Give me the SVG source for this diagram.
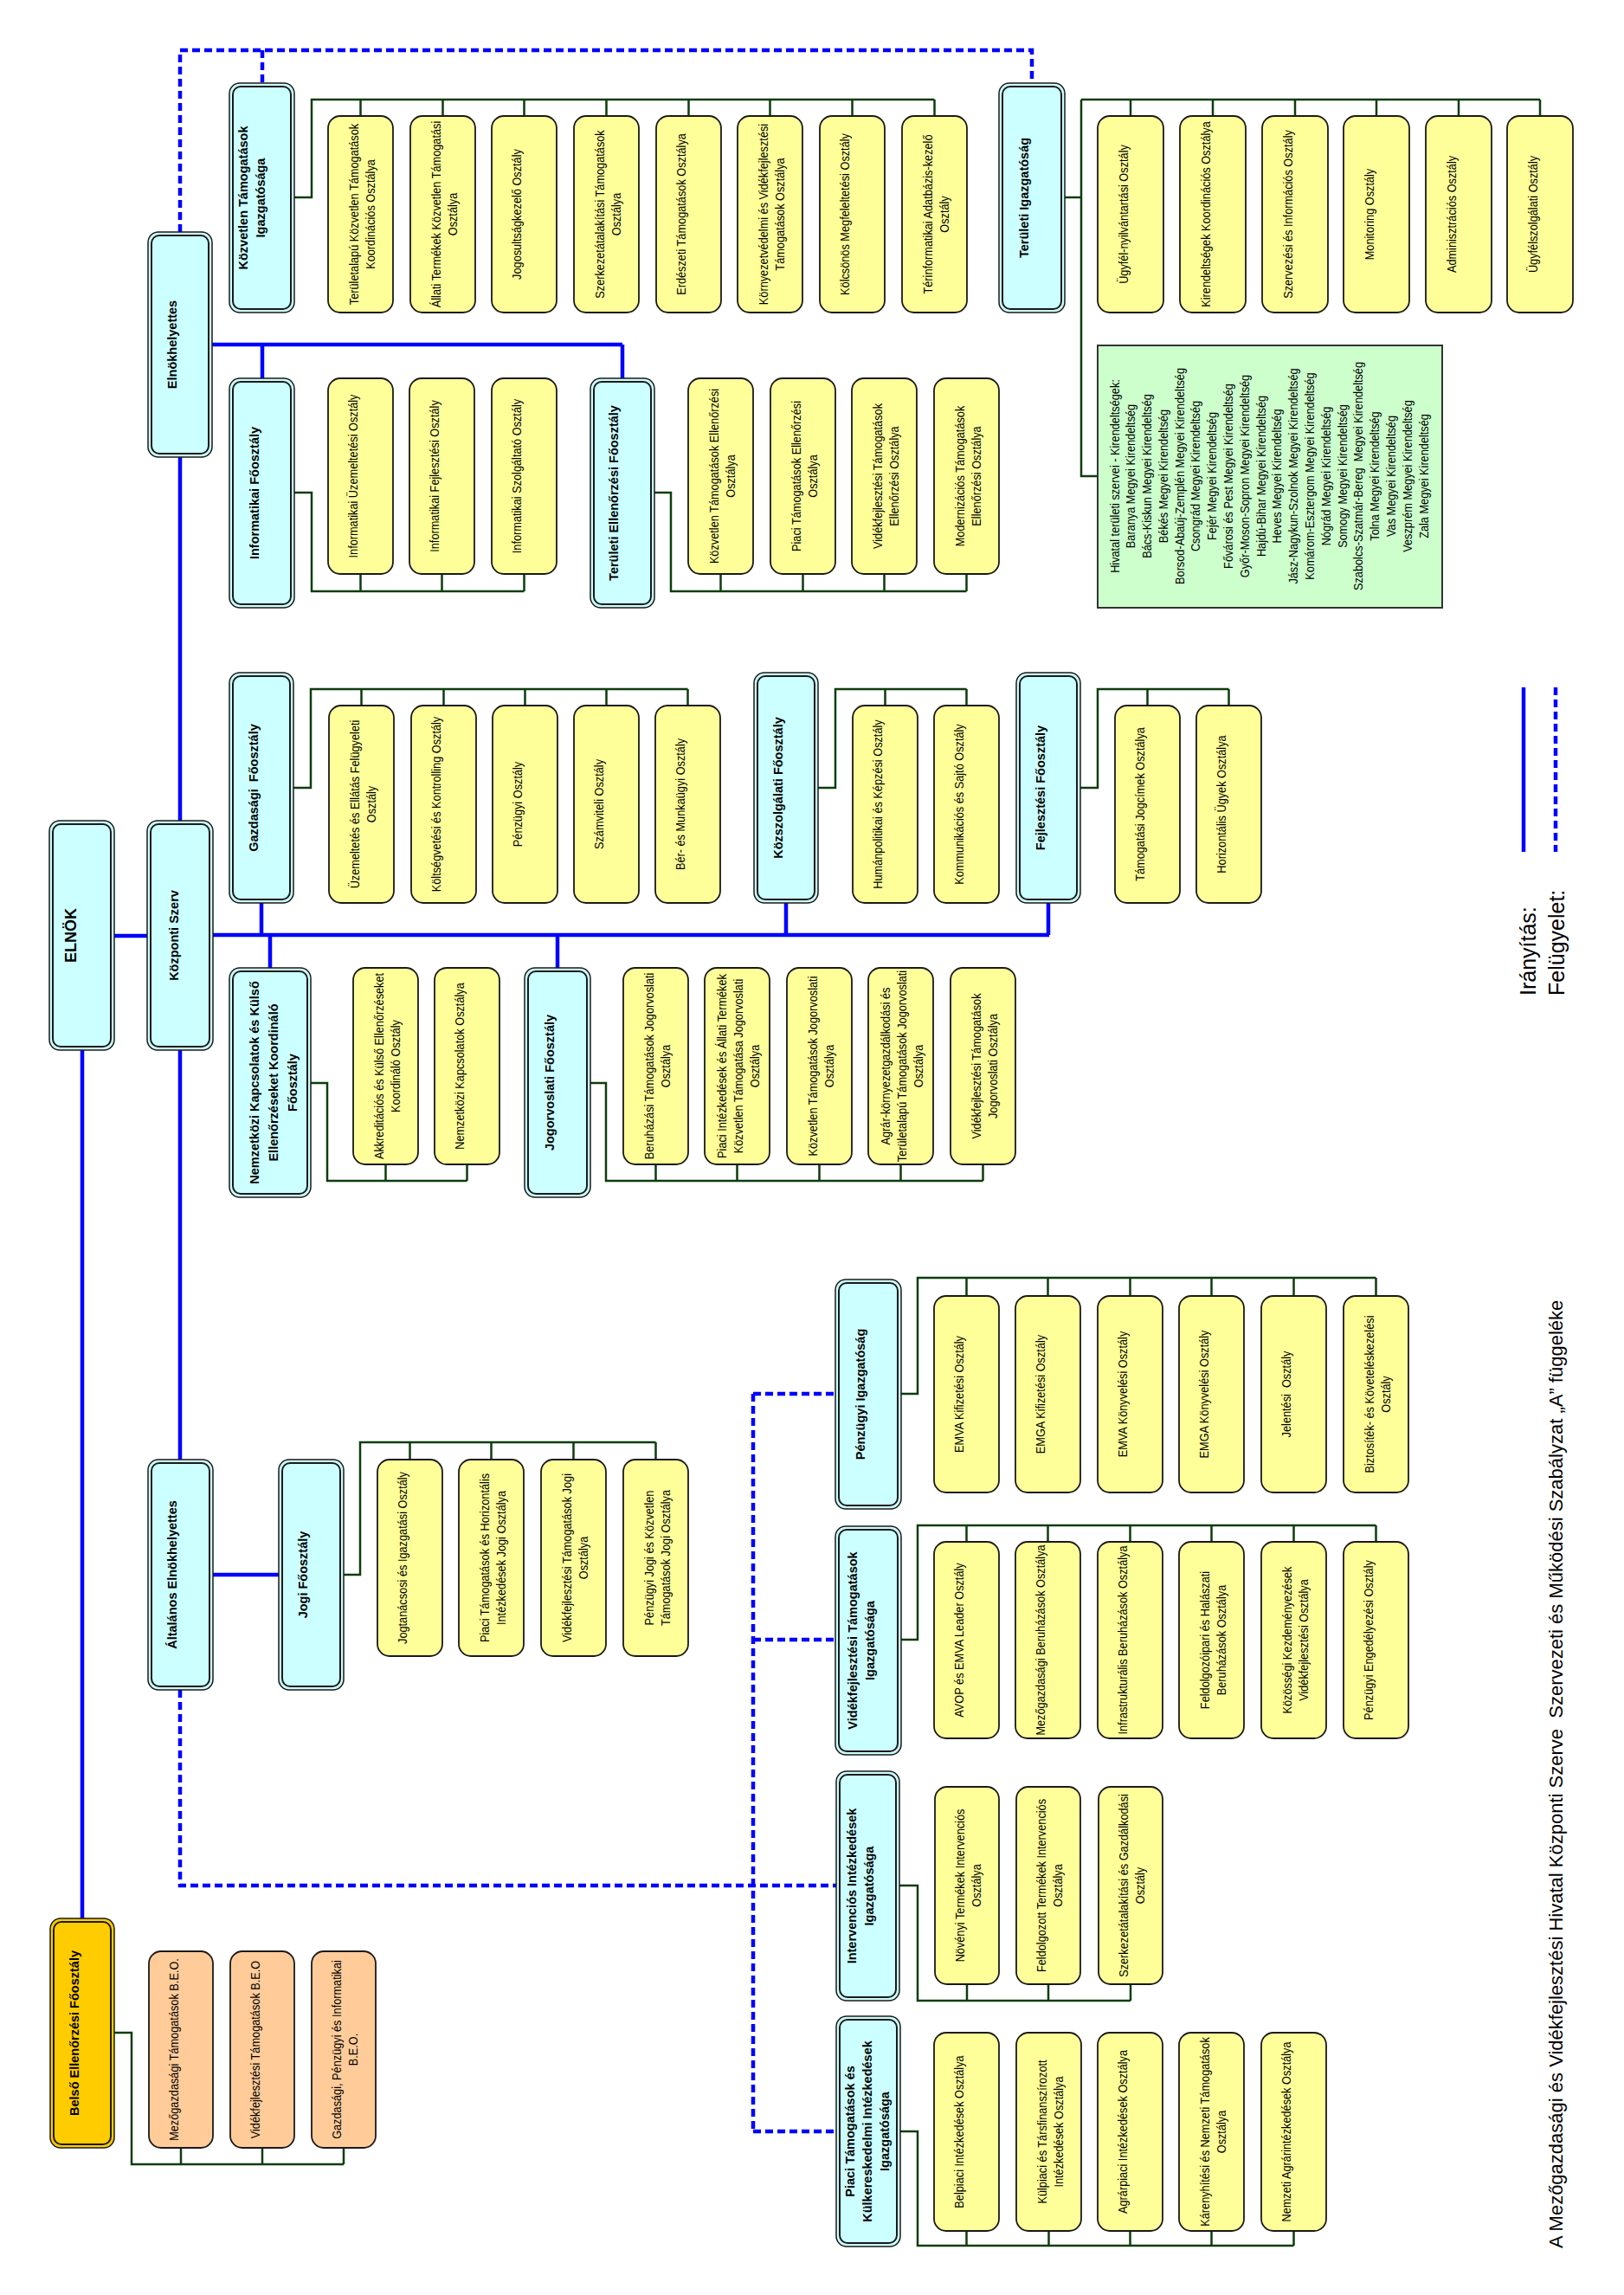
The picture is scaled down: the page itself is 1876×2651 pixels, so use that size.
<svg xmlns="http://www.w3.org/2000/svg" width="1876" height="2651" viewBox="0 0 1876 2651">
<style>
.cy{fill:#CCFFFF;stroke:#1a1a1a;stroke-width:1.5}
.go{fill:#FFCC00;stroke:#1a1a1a;stroke-width:1.5}
.in{fill:none;stroke:#1a1a1a;stroke-width:2}
.ye{fill:#FFFF99;stroke:#1a1a1a;stroke-width:1.8}
.or{fill:#FFCC99;stroke:#1a1a1a;stroke-width:1.8}
.gr{fill:#CCFFCC;stroke:#333;stroke-width:2}
text{font-family:"Liberation Sans",Arial,sans-serif;text-anchor:middle;fill:#000}
.h{font-weight:bold;font-size:14.5px}
.t{font-size:15px}
.big{font-weight:bold;font-size:18px}
.lg{font-size:22px;text-anchor:start}
.lg2{font-size:25px;text-anchor:start}
.c{fill:none;stroke:#0d3d0d;stroke-width:2.5}
.b{fill:none;stroke:#0000FF;stroke-width:4.5}
.d{fill:none;stroke:#0000FF;stroke-width:4.5;stroke-dasharray:9 5}
</style>
<rect width="1876" height="2651" fill="#fff"/>

<g id="connectors">
<path class="b" d="M132,1081 H170 M246,1080 H1212 M302,1043 V1080 M908,1043 V1080 M1211,1043 V1080 M312,1080 V1118 M644,1080 V1118 M208,948 V528 M245,398 H719 M303,398 V437 M719,398 V437 M208,1213 V1686 M246,1819 H322 M95,1213 V2216"/>
<path class="d" d="M208,268 V58 H1192 V96 M303,58 V96 M208,1952 V2178 H966 M870,1610 V2462 M870,1610 H965 M870,1894 H965 M870,2462 H966"/>
<path class="c" d="M340,228 H360 V115 H1079.5 M416.5,115 V134 M511.5,115 V134 M605.5,115 V134 M700.5,115 V134 M795.5,115 V134 M889.5,115 V134 M984.5,115 V134 M1079.5,115 V134"/>
<path class="c" d="M1230,228 H1249 M1249,115 V550 H1268 M1249,115 H1779 M1306,115 V134 M1401,115 V134 M1496,115 V134 M1590,115 V134 M1685,115 V134 M1779,115 V134"/>
<path class="c" d="M340,569 H360 V683 H605.5 M416.5,663 V683 M510.5,663 V683 M605.5,663 V683"/>
<path class="c" d="M756,569 H775 V683 H1116.5 M832.5,663 V683 M927.5,663 V683 M1021.5,663 V683 M1116.5,663 V683"/>
<path class="c" d="M339,910 H359 V796 H794.5 M417.5,796 V815 M512.5,796 V815 M606.5,796 V815 M700.5,796 V815 M794.5,796 V815"/>
<path class="c" d="M945,910 H965 V796 H1116.5 M1022.5,796 V815 M1116.5,796 V815"/>
<path class="c" d="M1248,910 H1268 V796 H1419.5 M1325.5,796 V815 M1419.5,796 V815"/>
<path class="c" d="M359,1251 H378 V1364 H539.5 M445.5,1345 V1364 M539.5,1345 V1364"/>
<path class="c" d="M682,1251 H700 V1364 H1135.5 M757.5,1345 V1364 M851.5,1345 V1364 M946.5,1345 V1364 M1040.5,1345 V1364 M1135.5,1345 V1364"/>
<path class="c" d="M397,1819 H416 V1666 H757.5 M473.5,1666 V1686 M567.5,1666 V1686 M662.5,1666 V1686 M757.5,1666 V1686"/>
<path class="c" d="M1041,1610 H1060 V1476 H1589.5 M1116.5,1476 V1497 M1210.5,1476 V1497 M1305.5,1476 V1497 M1399.5,1476 V1497 M1494.5,1476 V1497 M1589.5,1476 V1497"/>
<path class="c" d="M1041,1894 H1060 V1762 H1589.5 M1116.5,1762 V1781 M1210.5,1762 V1781 M1305.5,1762 V1781 M1399.5,1762 V1781 M1494.5,1762 V1781 M1589.5,1762 V1781"/>
<path class="c" d="M1039,2178 H1060 V2311 H1306 M1117,2292 V2311 M1211,2292 V2311 M1306,2292 V2311"/>
<path class="c" d="M1040,2462 H1060 V2594 H1494.5 M1116.5,2577 V2594 M1211.5,2577 V2594 M1305.5,2577 V2594 M1399.5,2577 V2594 M1494.5,2577 V2594"/>
<path class="c" d="M132,2348 H152 V2500 H397 M209,2481 V2500 M303,2481 V2500 M397,2481 V2500"/>
</g>

<g id="elnok"><rect class="cy" x="57" y="948" width="75" height="265" rx="12"/><rect class="in" x="61" y="952" width="67" height="257" rx="9"/><text class="big" transform="translate(83,1080.5) rotate(-90)"><tspan x="0" y="5.4">ELNÖK</tspan></text></g>
<g id="kozponti-szerv"><rect class="cy" x="170" y="948" width="76" height="265" rx="12"/><rect class="in" x="174" y="952" width="68" height="257" rx="9"/><text class="h" transform="translate(202,1080.5) rotate(-90)"><tspan x="0" y="4.4">Központi Szerv</tspan></text></g>
<g id="elnokhelyettes"><rect class="cy" x="171" y="268" width="74" height="260" rx="12"/><rect class="in" x="175" y="272" width="66" height="252" rx="9"/><text class="h" transform="translate(200,398) rotate(-90)"><tspan x="0" y="4.4">Elnökhelyettes</tspan></text></g>
<g id="kozvetlen-tam-ig"><rect class="cy" x="265" y="96" width="75" height="265" rx="12"/><rect class="in" x="269" y="100" width="67" height="257" rx="9"/><text class="h" transform="translate(292,228.5) rotate(-90)"><tspan x="0" y="-5.6">Közvetlen Támogatások</tspan><tspan x="0" y="14.4">Igazgatósága</tspan></text></g>
<g id="teruleti-ig"><rect class="cy" x="1154" y="96" width="76" height="265" rx="12"/><rect class="in" x="1158" y="100" width="68" height="257" rx="9"/><text class="h" transform="translate(1184,228.5) rotate(-90)"><tspan x="0" y="4.4">Területi Igazgatóság</tspan></text></g>
<g id="informatikai-fo"><rect class="cy" x="265" y="437" width="75" height="265" rx="12"/><rect class="in" x="269" y="441" width="67" height="257" rx="9"/><text class="h" transform="translate(295,569.5) rotate(-90)"><tspan x="0" y="4.4">Informatikai Főosztály</tspan></text></g>
<g id="teruleti-ell-fo"><rect class="cy" x="682" y="437" width="74" height="265" rx="12"/><rect class="in" x="686" y="441" width="66" height="257" rx="9"/><text class="h" transform="translate(710,569.5) rotate(-90)"><tspan x="0" y="4.4">Területi Ellenőrzési Főosztály</tspan></text></g>
<g id="gazdasagi-fo"><rect class="cy" x="265" y="777" width="74" height="266" rx="12"/><rect class="in" x="269" y="781" width="66" height="258" rx="9"/><text class="h" xml:space="preserve" transform="translate(294,910) rotate(-90)"><tspan x="0" y="4.4">Gazdasági  Főosztály</tspan></text></g>
<g id="kozszolgalati-fo"><rect class="cy" x="871" y="777" width="74" height="266" rx="12"/><rect class="in" x="875" y="781" width="66" height="258" rx="9"/><text class="h" transform="translate(900,910) rotate(-90)"><tspan x="0" y="4.4">Közszolgálati Főosztály</tspan></text></g>
<g id="fejlesztesi-fo"><rect class="cy" x="1174" y="777" width="74" height="266" rx="12"/><rect class="in" x="1178" y="781" width="66" height="258" rx="9"/><text class="h" transform="translate(1203,910) rotate(-90)"><tspan x="0" y="4.4">Fejlesztési Főosztály</tspan></text></g>
<g id="nemzetkozi-fo"><rect class="cy" x="265" y="1118" width="94" height="265" rx="12"/><rect class="in" x="269" y="1122" width="86" height="257" rx="9"/><text class="h" transform="translate(317,1250.5) rotate(-90)"><tspan x="0" y="-17.6">Nemzetközi Kapcsolatok és Külső</tspan><tspan x="0" y="4.4">Ellenőrzéseket Koordináló</tspan><tspan x="0" y="26.4">Főosztály</tspan></text></g>
<g id="jogorvoslati-fo"><rect class="cy" x="606" y="1118" width="76" height="265" rx="12"/><rect class="in" x="610" y="1122" width="68" height="257" rx="9"/><text class="h" transform="translate(636,1250.5) rotate(-90)"><tspan x="0" y="4.4">Jogorvoslati Főosztály</tspan></text></g>
<g id="altalanos-elnh"><rect class="cy" x="171" y="1686" width="75" height="266" rx="12"/><rect class="in" x="175" y="1690" width="67" height="258" rx="9"/><text class="h" transform="translate(200,1819) rotate(-90)"><tspan x="0" y="4.4">Általános Elnökhelyettes</tspan></text></g>
<g id="jogi-fo"><rect class="cy" x="322" y="1686" width="75" height="266" rx="12"/><rect class="in" x="326" y="1690" width="67" height="258" rx="9"/><text class="h" transform="translate(351,1819) rotate(-90)"><tspan x="0" y="4.4">Jogi Főosztály</tspan></text></g>
<g id="penzugyi-ig"><rect class="cy" x="965" y="1478" width="76" height="265" rx="12"/><rect class="in" x="969" y="1482" width="68" height="257" rx="9"/><text class="h" transform="translate(995,1610.5) rotate(-90)"><tspan x="0" y="4.4">Pénzügyi Igazgatóság</tspan></text></g>
<g id="videkfejl-ig"><rect class="cy" x="965" y="1763" width="76" height="264" rx="12"/><rect class="in" x="969" y="1767" width="68" height="256" rx="9"/><text class="h" transform="translate(996,1895) rotate(-90)"><tspan x="0" y="-5.6">Vidékfejlesztési Támogatások</tspan><tspan x="0" y="14.4">Igazgatósága</tspan></text></g>
<g id="intervencios-ig"><rect class="cy" x="966" y="2046" width="73" height="265" rx="12"/><rect class="in" x="970" y="2050" width="65" height="257" rx="9"/><text class="h" transform="translate(995,2178.5) rotate(-90)"><tspan x="0" y="-5.6">Intervenciós Intézkedések</tspan><tspan x="0" y="14.4">Igazgatósága</tspan></text></g>
<g id="piaci-ig"><rect class="cy" x="966" y="2329" width="74" height="266" rx="12"/><rect class="in" x="970" y="2333" width="66" height="258" rx="9"/><text class="h" transform="translate(1003,2462) rotate(-90)"><tspan x="0" y="-15.6">Piaci Támogatások és</tspan><tspan x="0" y="4.4">Külkereskedelmi Intézkedések</tspan><tspan x="0" y="24.4">Igazgatósága</tspan></text></g>
<g id="belso-ell-fo"><rect class="go" x="58" y="2216" width="74" height="265" rx="12"/><rect class="in" x="62" y="2220" width="66" height="257" rx="9"/><text class="h" transform="translate(87,2348.5) rotate(-90)"><tspan x="0" y="4.4">Belső Ellenőrzési Főosztály</tspan></text></g>

<g id="kt1"><rect class="ye" x="379" y="134" width="75" height="227" rx="14"/><text class="t" transform="translate(418.5,247.5) rotate(-90) scale(.85 1)"><tspan x="0" y="-5">Területalapú Közvetlen Támogatások</tspan><tspan x="0" y="14">Koordinációs Osztálya</tspan></text></g>
<g id="kt2"><rect class="ye" x="474" y="134" width="75" height="227" rx="14"/><text class="t" transform="translate(513.5,247.5) rotate(-90) scale(.85 1)"><tspan x="0" y="-5">Állati Termékek Közvetlen Támogatási</tspan><tspan x="0" y="14">Osztálya</tspan></text></g>
<g id="kt3"><rect class="ye" x="568" y="134" width="75" height="227" rx="14"/><text class="t" transform="translate(597.5,247.5) rotate(-90) scale(.85 1)"><tspan x="0" y="4.5">Jogosultságkezelő Osztály</tspan></text></g>
<g id="kt4"><rect class="ye" x="663" y="134" width="75" height="227" rx="14"/><text class="t" transform="translate(702.5,247.5) rotate(-90) scale(.85 1)"><tspan x="0" y="-5">Szerkezetátalakítási Támogatások</tspan><tspan x="0" y="14">Osztálya</tspan></text></g>
<g id="kt5"><rect class="ye" x="758" y="134" width="75" height="227" rx="14"/><text class="t" transform="translate(787.5,247.5) rotate(-90) scale(.85 1)"><tspan x="0" y="4.5">Erdészeti Támogatások Osztálya</tspan></text></g>
<g id="kt6"><rect class="ye" x="852" y="134" width="75" height="227" rx="14"/><text class="t" transform="translate(891.5,247.5) rotate(-90) scale(.85 1)"><tspan x="0" y="-5">Környezetvédelmi és Vidékfejlesztési</tspan><tspan x="0" y="14">Támogatások Osztálya</tspan></text></g>
<g id="kt7"><rect class="ye" x="947" y="134" width="75" height="227" rx="14"/><text class="t" transform="translate(976.5,247.5) rotate(-90) scale(.85 1)"><tspan x="0" y="4.5">Kölcsönös Megfeleltetési Osztály</tspan></text></g>
<g id="kt8"><rect class="ye" x="1042" y="134" width="75" height="227" rx="14"/><text class="t" transform="translate(1081.5,247.5) rotate(-90) scale(.85 1)"><tspan x="0" y="-5">Térinformatikai Adatbázis-kezelő</tspan><tspan x="0" y="14">Osztály</tspan></text></g>

<g id="ti1"><rect class="ye" x="1268" y="134" width="76" height="227" rx="14"/><text class="t" transform="translate(1298,247.5) rotate(-90) scale(.85 1)"><tspan x="0" y="4.5">Ügyfél-nyilvántartási Osztály</tspan></text></g>
<g id="ti2"><rect class="ye" x="1363" y="134" width="76" height="227" rx="14"/><text class="t" transform="translate(1393,247.5) rotate(-90) scale(.85 1)"><tspan x="0" y="4.5">Kirendeltségek Koordinációs Osztálya</tspan></text></g>
<g id="ti3"><rect class="ye" x="1458" y="134" width="76" height="227" rx="14"/><text class="t" transform="translate(1488,247.5) rotate(-90) scale(.85 1)"><tspan x="0" y="4.5">Szervezési és Információs Osztály</tspan></text></g>
<g id="ti4"><rect class="ye" x="1552" y="134" width="76" height="227" rx="14"/><text class="t" transform="translate(1582,247.5) rotate(-90) scale(.85 1)"><tspan x="0" y="4.5">Monitoring Osztály</tspan></text></g>
<g id="ti5"><rect class="ye" x="1647" y="134" width="76" height="227" rx="14"/><text class="t" transform="translate(1677,247.5) rotate(-90) scale(.85 1)"><tspan x="0" y="4.5">Adminisztrációs Osztály</tspan></text></g>
<g id="ti6"><rect class="ye" x="1741" y="134" width="76" height="227" rx="14"/><text class="t" transform="translate(1771,247.5) rotate(-90) scale(.85 1)"><tspan x="0" y="4.5">Ügyfélszolgálati Osztály</tspan></text></g>

<g id="kirendeltsegek"><rect class="gr" x="1268" y="399" width="398" height="303"/>
<text class="t" transform="translate(1288,550) rotate(-90) scale(.85 1)" xml:space="preserve"><tspan x="0" y="4.5">Hivatal területi szervei - Kirendeltségek:</tspan><tspan x="0" y="23.3">Baranya Megyei Kirendeltség</tspan><tspan x="0" y="42.1">Bács-Kiskun Megyei Kirendeltség</tspan><tspan x="0" y="60.9">Békés Megyei Kirendeltség</tspan><tspan x="0" y="79.7">Borsod-Abaúj-Zemplén Megyei Kirendeltség</tspan><tspan x="0" y="98.5">Csongrád Megyei Kirendeltség</tspan><tspan x="0" y="117.3">Fejér Megyei Kirendeltség</tspan><tspan x="0" y="136.1">Fővárosi és Pest Megyei Kirendeltség</tspan><tspan x="0" y="154.9">Győr-Moson-Sopron Megyei Kirendeltség</tspan><tspan x="0" y="173.7">Hajdú-Bihar Megyei Kirendeltség</tspan><tspan x="0" y="192.5">Heves Megyei Kirendeltség</tspan><tspan x="0" y="211.3">Jász-Nagykun-Szolnok Megyei Kirendeltség</tspan><tspan x="0" y="230.1">Komárom-Esztergom Megyei Kirendeltség</tspan><tspan x="0" y="248.9">Nógrád Megyei Kirendeltség</tspan><tspan x="0" y="267.7">Somogy Megyei Kirendeltség</tspan><tspan x="0" y="286.5">Szabolcs-Szatmár-Bereg  Megyei Kirendeltség</tspan><tspan x="0" y="305.3">Tolna Megyei Kirendeltség</tspan><tspan x="0" y="324.1">Vas Megyei Kirendeltség</tspan><tspan x="0" y="342.9">Veszprém Megyei Kirendeltség</tspan><tspan x="0" y="361.7">Zala Megyei Kirendeltség</tspan></text></g>

<g id="inf1"><rect class="ye" x="379" y="437" width="75" height="226" rx="14"/><text class="t" transform="translate(408.5,550) rotate(-90) scale(.85 1)"><tspan x="0" y="4.5">Informatikai Üzemeltetési Osztály</tspan></text></g>
<g id="inf2"><rect class="ye" x="473" y="437" width="75" height="226" rx="14"/><text class="t" transform="translate(502.5,550) rotate(-90) scale(.85 1)"><tspan x="0" y="4.5">Informatikai Fejlesztési Osztály</tspan></text></g>
<g id="inf3"><rect class="ye" x="568" y="437" width="75" height="226" rx="14"/><text class="t" transform="translate(597.5,550) rotate(-90) scale(.85 1)"><tspan x="0" y="4.5">Informatikai Szolgáltató Osztály</tspan></text></g>

<g id="tef1"><rect class="ye" x="795" y="437" width="75" height="226" rx="14"/><text class="t" transform="translate(834.5,550) rotate(-90) scale(.85 1)"><tspan x="0" y="-5">Közvetlen Támogatások Ellenőrzési</tspan><tspan x="0" y="14">Osztálya</tspan></text></g>
<g id="tef2"><rect class="ye" x="890" y="437" width="75" height="226" rx="14"/><text class="t" transform="translate(929.5,550) rotate(-90) scale(.85 1)"><tspan x="0" y="-5">Piaci Támogatások Ellenőrzési</tspan><tspan x="0" y="14">Osztálya</tspan></text></g>
<g id="tef3"><rect class="ye" x="984" y="437" width="75" height="226" rx="14"/><text class="t" transform="translate(1023.5,550) rotate(-90) scale(.85 1)"><tspan x="0" y="-5">Vidékfejlesztési Támogatások</tspan><tspan x="0" y="14">Ellenőrzési Osztálya</tspan></text></g>
<g id="tef4"><rect class="ye" x="1079" y="437" width="75" height="226" rx="14"/><text class="t" transform="translate(1118.5,550) rotate(-90) scale(.85 1)"><tspan x="0" y="-5">Modernizációs Támogatások</tspan><tspan x="0" y="14">Ellenőrzési Osztálya</tspan></text></g>

<g id="gaz1"><rect class="ye" x="380" y="815" width="75" height="228" rx="14"/><text class="t" transform="translate(419.5,929) rotate(-90) scale(.85 1)"><tspan x="0" y="-5">Üzemeltetés és Ellátás Felügyeleti</tspan><tspan x="0" y="14">Osztály</tspan></text></g>
<g id="gaz2"><rect class="ye" x="475" y="815" width="75" height="228" rx="14"/><text class="t" transform="translate(504.5,929) rotate(-90) scale(.85 1)"><tspan x="0" y="4.5">Költségvetési és Kontrolling Osztály</tspan></text></g>
<g id="gaz3"><rect class="ye" x="569" y="815" width="75" height="228" rx="14"/><text class="t" transform="translate(598.5,929) rotate(-90) scale(.85 1)"><tspan x="0" y="4.5">Pénzügyi Osztály</tspan></text></g>
<g id="gaz4"><rect class="ye" x="663" y="815" width="75" height="228" rx="14"/><text class="t" transform="translate(692.5,929) rotate(-90) scale(.85 1)"><tspan x="0" y="4.5">Számviteli Osztály</tspan></text></g>
<g id="gaz5"><rect class="ye" x="757" y="815" width="75" height="228" rx="14"/><text class="t" transform="translate(786.5,929) rotate(-90) scale(.85 1)"><tspan x="0" y="4.5">Bér- és Munkaügyi Osztály</tspan></text></g>
<g id="ksz1"><rect class="ye" x="985" y="815" width="75" height="228" rx="14"/><text class="t" transform="translate(1014.5,929) rotate(-90) scale(.85 1)"><tspan x="0" y="4.5">Humánpolitikai és Képzési Osztály</tspan></text></g>
<g id="ksz2"><rect class="ye" x="1079" y="815" width="75" height="228" rx="14"/><text class="t" transform="translate(1108.5,929) rotate(-90) scale(.85 1)"><tspan x="0" y="4.5">Kommunikációs és Sajtó Osztály</tspan></text></g>
<g id="fej1"><rect class="ye" x="1288" y="815" width="75" height="228" rx="14"/><text class="t" transform="translate(1317.5,929) rotate(-90) scale(.85 1)"><tspan x="0" y="4.5">Támogatási Jogcímek Osztálya</tspan></text></g>
<g id="fej2"><rect class="ye" x="1382" y="815" width="75" height="228" rx="14"/><text class="t" transform="translate(1411.5,929) rotate(-90) scale(.85 1)"><tspan x="0" y="4.5">Horizontális Ügyek Osztálya</tspan></text></g>

<g id="nk1"><rect class="ye" x="408" y="1118" width="75" height="227" rx="14"/><text class="t" transform="translate(447.5,1231.5) rotate(-90) scale(.85 1)"><tspan x="0" y="-5">Akkreditációs és Külső Ellenőrzéseket</tspan><tspan x="0" y="14">Koordináló Osztály</tspan></text></g>
<g id="nk2"><rect class="ye" x="502" y="1118" width="75" height="227" rx="14"/><text class="t" transform="translate(531.5,1231.5) rotate(-90) scale(.85 1)"><tspan x="0" y="4.5">Nemzetközi Kapcsolatok Osztálya</tspan></text></g>
<g id="jo1"><rect class="ye" x="720" y="1118" width="75" height="227" rx="14"/><text class="t" transform="translate(759.5,1231.5) rotate(-90) scale(.85 1)"><tspan x="0" y="-5">Beruházási Támogatások Jogorvoslati</tspan><tspan x="0" y="14">Osztálya</tspan></text></g>
<g id="jo2"><rect class="ye" x="814" y="1118" width="75" height="227" rx="14"/><text class="t" transform="translate(853.5,1231.5) rotate(-90) scale(.85 1)"><tspan x="0" y="-14.5">Piaci Intézkedések és Állati Termékek</tspan><tspan x="0" y="4.5">Közvetlen Támogatása Jogorvoslati</tspan><tspan x="0" y="23.5">Osztálya</tspan></text></g>
<g id="jo3"><rect class="ye" x="909" y="1118" width="75" height="227" rx="14"/><text class="t" transform="translate(948.5,1231.5) rotate(-90) scale(.85 1)"><tspan x="0" y="-5">Közvetlen Támogatások Jogorvoslati</tspan><tspan x="0" y="14">Osztálya</tspan></text></g>
<g id="jo4"><rect class="ye" x="1003" y="1118" width="75" height="227" rx="14"/><text class="t" transform="translate(1042.5,1231.5) rotate(-90) scale(.85 1)"><tspan x="0" y="-14.5">Agrár-környezetgazdálkodási és</tspan><tspan x="0" y="4.5">Területalapú Támogatások Jogorvoslati</tspan><tspan x="0" y="23.5">Osztálya</tspan></text></g>
<g id="jo5"><rect class="ye" x="1098" y="1118" width="75" height="227" rx="14"/><text class="t" transform="translate(1137.5,1231.5) rotate(-90) scale(.85 1)"><tspan x="0" y="-5">Vidékfejlesztési Támogatások</tspan><tspan x="0" y="14">Jogorvoslati Osztálya</tspan></text></g>

<g id="jg1"><rect class="ye" x="436" y="1686" width="75" height="227" rx="14"/><text class="t" transform="translate(465.5,1799.5) rotate(-90) scale(.85 1)"><tspan x="0" y="4.5">Jogtanácsosi és Igazgatási Osztály</tspan></text></g>
<g id="jg2"><rect class="ye" x="530" y="1686" width="75" height="227" rx="14"/><text class="t" transform="translate(569.5,1799.5) rotate(-90) scale(.85 1)"><tspan x="0" y="-5">Piaci Támogatások és Horizontális</tspan><tspan x="0" y="14">Intézkedések Jogi Osztálya</tspan></text></g>
<g id="jg3"><rect class="ye" x="625" y="1686" width="75" height="227" rx="14"/><text class="t" transform="translate(664.5,1799.5) rotate(-90) scale(.85 1)"><tspan x="0" y="-5">Vidékfejlesztési Támogatások Jogi</tspan><tspan x="0" y="14">Osztálya</tspan></text></g>
<g id="jg4"><rect class="ye" x="720" y="1686" width="75" height="227" rx="14"/><text class="t" transform="translate(759.5,1799.5) rotate(-90) scale(.85 1)"><tspan x="0" y="-5">Pénzügyi Jogi és Közvetlen</tspan><tspan x="0" y="14">Támogatások Jogi Osztálya</tspan></text></g>

<g id="pi1"><rect class="ye" x="1079" y="1497" width="75" height="227" rx="14"/><text class="t" transform="translate(1108.5,1610.5) rotate(-90) scale(.85 1)"><tspan x="0" y="4.5">EMVA Kifizetési Osztály</tspan></text></g>
<g id="pi2"><rect class="ye" x="1173" y="1497" width="75" height="227" rx="14"/><text class="t" transform="translate(1202.5,1610.5) rotate(-90) scale(.85 1)"><tspan x="0" y="4.5">EMGA Kifizetési Osztály</tspan></text></g>
<g id="pi3"><rect class="ye" x="1268" y="1497" width="75" height="227" rx="14"/><text class="t" transform="translate(1297.5,1610.5) rotate(-90) scale(.85 1)"><tspan x="0" y="4.5">EMVA Könyvelési Osztály</tspan></text></g>
<g id="pi4"><rect class="ye" x="1362" y="1497" width="75" height="227" rx="14"/><text class="t" transform="translate(1391.5,1610.5) rotate(-90) scale(.85 1)"><tspan x="0" y="4.5">EMGA Könyvelési Osztály</tspan></text></g>
<g id="pi5"><rect class="ye" x="1457" y="1497" width="75" height="227" rx="14"/><text class="t" xml:space="preserve" transform="translate(1486.5,1610.5) rotate(-90) scale(.85 1)"><tspan x="0" y="4.5">Jelentési  Osztály</tspan></text></g>
<g id="pi6"><rect class="ye" x="1552" y="1497" width="75" height="227" rx="14"/><text class="t" transform="translate(1591.5,1610.5) rotate(-90) scale(.85 1)"><tspan x="0" y="-5">Biztosíték- és Követeléskezelési</tspan><tspan x="0" y="14">Osztály</tspan></text></g>

<g id="vi1"><rect class="ye" x="1079" y="1781" width="75" height="227" rx="14"/><text class="t" transform="translate(1108.5,1894.5) rotate(-90) scale(.85 1)"><tspan x="0" y="4.5">AVOP és EMVA Leader Osztály</tspan></text></g>
<g id="vi2"><rect class="ye" x="1173" y="1781" width="75" height="227" rx="14"/><text class="t" transform="translate(1202.5,1894.5) rotate(-90) scale(.85 1)"><tspan x="0" y="4.5">Mezőgazdasági Beruházások Osztálya</tspan></text></g>
<g id="vi3"><rect class="ye" x="1268" y="1781" width="75" height="227" rx="14"/><text class="t" transform="translate(1297.5,1894.5) rotate(-90) scale(.85 1)"><tspan x="0" y="4.5">Infrastrukturális Beruházások Osztálya</tspan></text></g>
<g id="vi4"><rect class="ye" x="1362" y="1781" width="75" height="227" rx="14"/><text class="t" transform="translate(1401.5,1894.5) rotate(-90) scale(.85 1)"><tspan x="0" y="-5">Feldolgozóipari és Halászati</tspan><tspan x="0" y="14">Beruházások Osztálya</tspan></text></g>
<g id="vi5"><rect class="ye" x="1457" y="1781" width="75" height="227" rx="14"/><text class="t" transform="translate(1496.5,1894.5) rotate(-90) scale(.85 1)"><tspan x="0" y="-5">Közösségi Kezdeményezések</tspan><tspan x="0" y="14">Vidékfejlesztési Osztálya</tspan></text></g>
<g id="vi6"><rect class="ye" x="1552" y="1781" width="75" height="227" rx="14"/><text class="t" transform="translate(1581.5,1894.5) rotate(-90) scale(.85 1)"><tspan x="0" y="4.5">Pénzügyi Engedélyezési Osztály</tspan></text></g>

<g id="iv1"><rect class="ye" x="1080" y="2064" width="74" height="228" rx="14"/><text class="t" transform="translate(1119,2178) rotate(-90) scale(.85 1)"><tspan x="0" y="-5">Növényi Termékek Intervenciós</tspan><tspan x="0" y="14">Osztálya</tspan></text></g>
<g id="iv2"><rect class="ye" x="1174" y="2064" width="74" height="228" rx="14"/><text class="t" transform="translate(1213,2178) rotate(-90) scale(.85 1)"><tspan x="0" y="-5">Feldolgozott Termékek Intervenciós</tspan><tspan x="0" y="14">Osztálya</tspan></text></g>
<g id="iv3"><rect class="ye" x="1269" y="2064" width="74" height="228" rx="14"/><text class="t" transform="translate(1308,2178) rotate(-90) scale(.85 1)"><tspan x="0" y="-5">Szerkezetátalakítási és Gazdálkodási</tspan><tspan x="0" y="14">Osztály</tspan></text></g>

<g id="pk1"><rect class="ye" x="1079" y="2348" width="75" height="229" rx="14"/><text class="t" transform="translate(1108.5,2462.5) rotate(-90) scale(.85 1)"><tspan x="0" y="4.5">Belpiaci Intézkedések Osztálya</tspan></text></g>
<g id="pk2"><rect class="ye" x="1174" y="2348" width="75" height="229" rx="14"/><text class="t" transform="translate(1213.5,2462.5) rotate(-90) scale(.85 1)"><tspan x="0" y="-5">Külpiaci és Társfinanszírozott</tspan><tspan x="0" y="14">Intézkedések Osztálya</tspan></text></g>
<g id="pk3"><rect class="ye" x="1268" y="2348" width="75" height="229" rx="14"/><text class="t" transform="translate(1297.5,2462.5) rotate(-90) scale(.85 1)"><tspan x="0" y="4.5">Agrárpiaci Intézkedések Osztálya</tspan></text></g>
<g id="pk4"><rect class="ye" x="1362" y="2348" width="75" height="229" rx="14"/><text class="t" transform="translate(1401.5,2462.5) rotate(-90) scale(.85 1)"><tspan x="0" y="-5">Kárenyhítési és Nemzeti Támogatások</tspan><tspan x="0" y="14">Osztálya</tspan></text></g>
<g id="pk5"><rect class="ye" x="1457" y="2348" width="75" height="229" rx="14"/><text class="t" transform="translate(1486.5,2462.5) rotate(-90) scale(.85 1)"><tspan x="0" y="4.5">Nemzeti Agrárintézkedések Osztálya</tspan></text></g>

<g id="be1"><rect class="or" x="172" y="2254" width="74" height="227" rx="14"/><text class="t" transform="translate(201,2367.5) rotate(-90) scale(.85 1)"><tspan x="0" y="4.5">Mezőgazdasági Támogatások B.E.O.</tspan></text></g>
<g id="be2"><rect class="or" x="266" y="2254" width="74" height="227" rx="14"/><text class="t" transform="translate(295,2367.5) rotate(-90) scale(.85 1)"><tspan x="0" y="4.5">Vidékfejlesztési Támogatások B.E.O</tspan></text></g>
<g id="be3"><rect class="or" x="360" y="2254" width="74" height="227" rx="14"/><text class="t" transform="translate(399,2367.5) rotate(-90) scale(.85 1)"><tspan x="0" y="-5">Gazdasági, Pénzügyi és Informatikai</tspan><tspan x="0" y="14">B.E.O.</tspan></text></g>

<g id="legend">
<path class="b" d="M1760,794 V984"/>
<path class="d" d="M1797,794 V984"/>
<text class="lg2" transform="translate(1774,1150) rotate(-90)">Irányítás:</text>
<text class="lg2" transform="translate(1807,1150) rotate(-90)">Felügyelet:</text>
</g>
<g id="footer">
<text class="lg" xml:space="preserve" transform="translate(1805,2597) rotate(-90)">A Mezőgazdasági és Vidékfejlesztési Hivatal Központi Szerve  Szervezeti és Működési Szabályzat „A” függeléke</text>
</g>
</svg>
